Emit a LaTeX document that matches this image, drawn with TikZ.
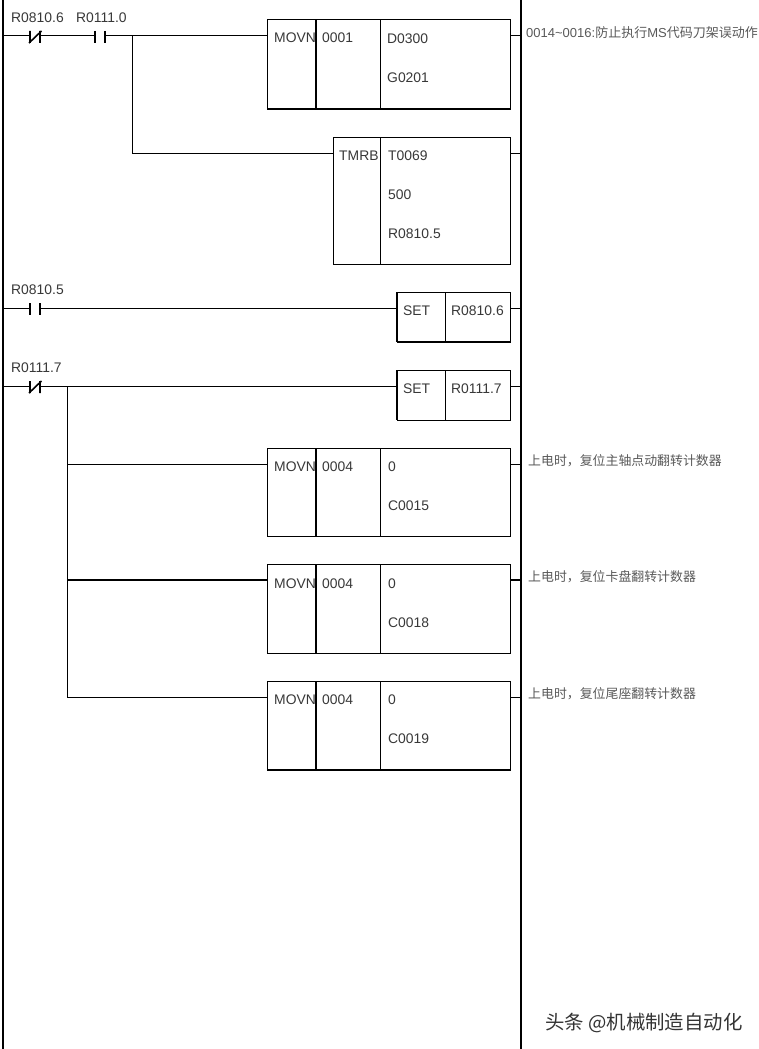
\documentclass[tikz,border=0pt]{standalone}
\usepackage{fontspec}
\setmainfont{Liberation Sans}
\newfontfamily\cjk{Noto Sans CJK SC}
\definecolor{labelgray}{gray}{0.22}
\definecolor{notegray}{gray}{0.35}
\tikzset{
  lbl/.style={anchor=west,inner sep=0pt,yshift=-0.7pt,text=labelgray,font=\fontsize{13.9}{15}\selectfont},
  note/.style={anchor=west,inner sep=0pt,text=notegray,font=\fontsize{12.9}{15}\cjk},
  fb/.style={draw=black,line width=1pt,anchor=north west,inner sep=0pt,outer sep=0pt,minimum width=#1},
  contactsym/.style={inner sep=0pt,outer sep=0pt,minimum width=10pt,minimum height=12pt},
  wire/.style={line width=1pt,draw=black},
  heavy/.style={line width=2pt,draw=black},
  rail/.style={line width=2.4pt,draw=black}
}
\newcommand{\nopen}[1]{\draw[line width=1.6pt] (#1.north west)--(#1.south west) (#1.north east)--(#1.south east);}
\newcommand{\nclosed}[1]{\draw[line width=1.6pt] (#1.north west)--(#1.south west) (#1.north east)--(#1.south east) ([xshift=-1pt]#1.south west)--([xshift=1.5pt]#1.north east);}
\begin{document}
\begin{tikzpicture}[x=1pt,y=-1pt]
\useasboundingbox (0,0) rectangle (758,1049);
% rails
\coordinate (lt) at (3,0); \coordinate (lb) at (3,1049);
\coordinate (rt) at (521,0); \coordinate (rb) at (521,1049);
\draw[rail] (lt)--(lb); \draw[rail] (rt)--(rb);
\coordinate (l1) at (3,36); \coordinate (r1) at (521,36);
\coordinate (r2) at (521,153);
\coordinate (l3) at (3,308); \coordinate (r3) at (521,308);
\coordinate (l4) at (3,386); \coordinate (r4) at (521,386);
\coordinate (r5) at (521,464); \coordinate (r6) at (521,580); \coordinate (r7) at (521,697);
\coordinate (j1) at (132,36); \coordinate (j1b) at (132,153);
\coordinate (j2) at (67,386); \coordinate (j5) at (67,464); \coordinate (j6) at (67,580); \coordinate (j7) at (67,697);
% boxes
\node[fb=243pt,minimum height=89pt] (b1) at (267,20) {};
\node[fb=177pt,minimum height=127pt] (b2) at (333,137) {};
\node[fb=113pt,minimum height=50pt] (b3) at (397,292) {};
\node[fb=113pt,minimum height=50pt] (b4) at (397,370) {};
\node[fb=243pt,minimum height=88pt] (b5) at (267,448) {};
\node[fb=243pt,minimum height=89pt] (b6) at (267,564) {};
\node[fb=243pt,minimum height=89pt] (b7) at (267,681) {};
% heavier edges and dividers
\foreach \b in {b1,b7}{\draw[heavy] (\b.south west)--(\b.south east);}
\draw[line width=1.6pt] (b3.south west)--(b3.south east);
\foreach \b in {b1,b5,b6,b7}{
  \draw[heavy] ([xshift=49pt]\b.north west)--([xshift=49pt]\b.south west);
  \draw[wire] ([xshift=113pt]\b.north west)--([xshift=113pt]\b.south west);
}
\draw[wire] ([xshift=47pt]b2.north west)--([xshift=47pt]b2.south west);
\foreach \b in {b3,b4}{\draw[wire] ([xshift=48pt]\b.north west)--([xshift=48pt]\b.south west);}
\draw[line width=1.6pt] (b3.north west)--(b3.south west);
\draw[line width=1.6pt] (b4.north west)--(b4.south west);
% contacts
\node[contactsym] (c1) at (35,37) {}; \nclosed{c1}
\node[contactsym] (c2) at (100,37) {}; \nopen{c2}
\node[contactsym] (c3) at (35,309) {}; \nopen{c3}
\node[contactsym] (c4) at (35,387) {}; \nclosed{c4}
% wires
\draw[wire] (l1)--(c1.west |- l1) (c1.east |- l1)--(c2.west |- l1) (c2.east |- l1)--(b1.west |- j1) (j1)--(j1b)--(b2.west |- j1b);
\draw[wire] (b1.east |- r1)--(r1) (b2.east |- r2)--(r2);
\draw[wire] (l3)--(c3.west |- l3) (c3.east |- l3)--(b3.west |- r3) (b3.east |- r3)--(r3);
\draw[wire] (l4)--(c4.west |- l4) (c4.east |- l4)--(b4.west |- r4) (b4.east |- r4)--(r4);
\draw[wire] (j2)--(j7)--(b7.west |- j7) (j5)--(b5.west |- j5) (b5.east |- r5)--(r5) (b7.east |- r7)--(r7);
\draw[heavy] (j6)--(b6.west |- j6) (b6.east |- r6)--(r6);
% labels
\node[lbl] (t1) at (11,17) {R0810.6};
\node[lbl] (t2) at (76,17) {R0111.0};
\node[lbl] (t3) at (11,289) {R0810.5};
\node[lbl] (t4) at (11,367) {R0111.7};
\node[lbl] (m1) at (274,37) {MOVN};
\node[lbl] (m2) at (322,37.5) {0001};
\node[lbl] (m3) at (387,38) {D0300};
\node[lbl] (m4) at (387,77) {G0201};
\node[lbl] (n1) at (339,155) {TMRB};
\node[lbl] (n2) at (388,155) {T0069};
\node[lbl] (n3) at (388,194) {500};
\node[lbl] (n4) at (388,233) {R0810.5};
\node[lbl] (s1) at (403,310) {SET};
\node[lbl] (s2) at (451,310) {R0810.6};
\node[lbl] (s3) at (403,388) {SET};
\node[lbl] (s4) at (451,388) {R0111.7};
\node[lbl] (p1) at (274,466) {MOVN};
\node[lbl] (p2) at (322,466) {0004};
\node[lbl] (p3) at (388,466) {0};
\node[lbl] (p4) at (388,505) {C0015};
\node[lbl] (q1) at (274,583) {MOVN};
\node[lbl] (q2) at (322,583) {0004};
\node[lbl] (q3) at (388,583) {0};
\node[lbl] (q4) at (388,622) {C0018};
\node[lbl] (u1) at (274,699) {MOVN};
\node[lbl] (u2) at (322,699) {0004};
\node[lbl] (u3) at (388,699) {0};
\node[lbl] (u4) at (388,738) {C0019};
% comments
\node[note] (k1) at (526,33) {\fontsize{13}{15}\selectfont\rmfamily 0014\textasciitilde 0016:{\cjk 防止执行}MS{\cjk 代码刀架误动作}};
\node[note] (k2) at (528,460.5) {上电时，复位主轴点动翻转计数器};
\node[note] (k3) at (528,577) {上电时，复位卡盘翻转计数器};
\node[note] (k4) at (528,694) {上电时，复位尾座翻转计数器};
\node[anchor=west,inner sep=0pt,text=black!80,font=\fontsize{19.4}{22}\cjk] (w) at (545,1022.5) {头条 @机械制造自动化};
\end{tikzpicture}
\end{document}
